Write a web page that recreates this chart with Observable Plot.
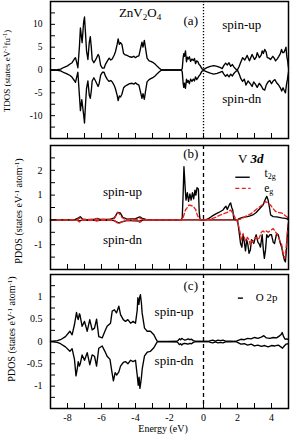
<!DOCTYPE html>
<html><head><meta charset="utf-8">
<script src="https://cdn.jsdelivr.net/npm/d3@7"></script>
<script src="https://cdn.jsdelivr.net/npm/@observablehq/plot@0.6"></script>
<style>
body{margin:0;background:#fff}
#wrap{position:relative;width:291px;height:436px;overflow:hidden;background:#fff}
#wrap svg{position:absolute;left:0}
</style></head><body><div id="wrap"></div>
<script>
// ---------- data (energy in eV, DOS values) ----------
const tdosUp = [[-9,0],[-8.6,0.05],[-8.4,0.2],[-8.2,0.6],[-8.0,0.9],[-7.85,1.3],[-7.73,1.6],[-7.6,2.4],[-7.53,2.7],[-7.45,1.5],[-7.39,0.5],[-7.3,5.0],[-7.24,9.2],[-7.14,6.0],[-7.05,10.5],[-7.0,11.6],[-6.94,8.0],[-6.88,4.2],[-6.8,2.3],[-6.72,6.0],[-6.66,7.3],[-6.6,5.0],[-6.55,2.3],[-6.45,1.6],[-6.35,2.2],[-6.2,3.4],[-6.14,3.0],[-6.05,1.0],[-5.95,0.4],[-5.85,0.4],[-5.76,1.3],[-5.65,2.0],[-5.55,2.6],[-5.45,2.2],[-5.37,2.4],[-5.25,3.3],[-5.18,4.0],[-5.08,5.6],[-5.02,6.8],[-4.95,5.6],[-4.88,6.0],[-4.8,5.6],[-4.7,3.6],[-4.6,3.3],[-4.5,3.2],[-4.35,2.9],[-4.2,2.8],[-4.1,3.0],[-4.0,2.7],[-3.9,3.0],[-3.8,3.1],[-3.7,4.8],[-3.62,6.1],[-3.56,5.0],[-3.48,6.5],[-3.4,4.5],[-3.32,2.6],[-3.2,2.0],[-3.1,1.9],[-2.95,1.6],[-2.85,1.3],[-2.72,0.8],[-2.6,0.4],[-2.5,0.1],[-2.43,0],[-1.3,0],[-1.25,0.3],[-1.2,2.6],[-1.16,3.6],[-1.12,3.0],[-1.06,4.2],[-1.0,1.8],[-0.95,2.8],[-0.9,2.4],[-0.83,2.9],[-0.76,1.9],[-0.68,2.4],[-0.6,2.1],[-0.53,2.5],[-0.47,1.4],[-0.4,2.0],[-0.33,1.8],[-0.26,1.2],[-0.2,1.0],[-0.1,0.3],[0,0.1],[0.2,0.5],[0.4,0.8],[0.6,0.95],[0.8,0.8],[1.0,0.5],[1.1,0.3],[1.2,1.0],[1.3,1.5],[1.4,1.1],[1.5,1.6],[1.6,0.8],[1.7,1.2],[1.8,0.6],[1.9,0.2],[2.0,0.05],[2.1,0.8],[2.18,1.6],[2.3,2.7],[2.43,2.2],[2.57,3.2],[2.7,2.0],[2.86,3.4],[3.0,2.3],[3.1,2.8],[3.16,3.8],[3.29,2.7],[3.4,3.3],[3.45,4.2],[3.52,3.6],[3.6,4.5],[3.68,4.0],[3.75,2.7],[3.85,2.6],[3.94,2.3],[4.08,3.0],[4.16,2.6],[4.24,2.0],[4.35,2.5],[4.43,3.0],[4.52,3.6],[4.59,4.5],[4.66,3.8],[4.72,3.8],[4.8,4.4],[4.85,5.0],[4.9,3.0],[4.95,2.0],[5.0,0.5]];
const tdosDn = [[-9,0],[-8.6,-0.05],[-8.4,-0.2],[-8.2,-0.6],[-8.0,-0.9],[-7.85,-1.2],[-7.73,-1.6],[-7.6,-2.3],[-7.53,-2.7],[-7.45,-1.4],[-7.39,-0.5],[-7.3,-5.5],[-7.24,-8.9],[-7.16,-6.5],[-7.05,-9.8],[-7.0,-11.6],[-6.94,-7.5],[-6.88,-4.0],[-6.8,-2.4],[-6.72,-5.5],[-6.66,-6.2],[-6.6,-4.6],[-6.55,-2.4],[-6.45,-1.7],[-6.35,-2.4],[-6.2,-3.6],[-6.14,-3.0],[-6.05,-1.1],[-5.95,-0.5],[-5.85,-0.5],[-5.76,-1.4],[-5.65,-2.1],[-5.55,-2.5],[-5.45,-2.3],[-5.37,-2.6],[-5.25,-3.4],[-5.18,-4.1],[-5.08,-5.5],[-5.02,-6.7],[-4.95,-5.7],[-4.88,-5.9],[-4.8,-5.3],[-4.7,-3.9],[-4.6,-3.5],[-4.5,-3.3],[-4.35,-3.0],[-4.2,-2.9],[-4.1,-3.1],[-4.0,-2.8],[-3.9,-3.1],[-3.8,-3.3],[-3.7,-4.9],[-3.62,-6.2],[-3.56,-5.2],[-3.48,-6.4],[-3.4,-4.4],[-3.32,-2.6],[-3.2,-2.1],[-3.1,-1.9],[-2.95,-1.6],[-2.85,-1.3],[-2.72,-0.8],[-2.6,-0.4],[-2.5,-0.1],[-2.43,0],[-1.3,0],[-1.25,-0.4],[-1.2,-2.8],[-1.16,-3.8],[-1.12,-2.9],[-1.06,-4.0],[-1.0,-2.0],[-0.95,-2.7],[-0.9,-2.3],[-0.83,-3.0],[-0.76,-2.0],[-0.68,-2.5],[-0.6,-2.0],[-0.53,-2.4],[-0.47,-1.5],[-0.4,-2.1],[-0.33,-1.7],[-0.26,-1.3],[-0.2,-1.0],[-0.1,-0.3],[0,-0.1],[0.2,-0.4],[0.4,-0.7],[0.6,-0.9],[0.8,-0.75],[1.0,-0.45],[1.1,-0.3],[1.2,-0.9],[1.3,-1.4],[1.4,-1.0],[1.5,-1.5],[1.6,-0.9],[1.7,-1.3],[1.8,-0.7],[1.9,-0.3],[2.0,-0.05],[2.1,-0.9],[2.2,-1.9],[2.3,-2.5],[2.4,-2.0],[2.5,-3.3],[2.62,-2.4],[2.75,-3.0],[2.86,-3.6],[2.95,-2.6],[3.05,-3.1],[3.16,-3.8],[3.28,-2.9],[3.4,-3.5],[3.5,-4.2],[3.6,-4.4],[3.7,-3.2],[3.8,-2.6],[3.9,-2.3],[4.0,-3.0],[4.1,-2.4],[4.2,-2.1],[4.3,-2.8],[4.42,-3.3],[4.52,-3.9],[4.6,-4.6],[4.68,-3.9],[4.75,-4.5],[4.82,-5.0],[4.88,-3.2],[4.94,-2.0],[5.0,-0.5]];

const t2gUp = [[-9,0],[-7.6,0],[-7.35,0.08],[-7.25,0.13],[-7.1,0.03],[-6.8,0],[-6.4,0.03],[-6.25,0.06],[-6.1,0.02],[-5.5,0.02],[-5.25,0.08],[-5.05,0.3],[-4.9,0.28],[-4.75,0.1],[-4.5,0.03],[-4.0,0.05],[-3.75,0.12],[-3.6,0.06],[-3.3,0],[-1.3,0],[-1.25,0.1],[-1.2,1.0],[-1.15,2.15],[-1.08,1.3],[-1.03,0.8],[-0.95,1.1],[-0.88,0.75],[-0.8,1.05],[-0.73,0.8],[-0.65,1.1],[-0.58,0.85],[-0.5,1.2],[-0.45,1.0],[-0.38,1.3],[-0.3,1.25],[-0.25,0.3],[-0.2,0],[0.1,0],[0.3,0.05],[0.5,0.15],[0.7,0.23],[0.9,0.3],[1.0,0.34],[1.15,0.4],[1.25,0.5],[1.32,0.55],[1.4,0.42],[1.48,0.55],[1.55,0.65],[1.6,0.68],[1.66,0.5],[1.72,0.4],[1.78,0.05],[1.9,0],[2.0,0],[2.1,0.05],[2.3,0.1],[2.5,0.12],[2.7,0.15],[2.9,0.2],[3.1,0.3],[3.3,0.45],[3.5,0.6],[3.65,0.85],[3.72,0.95],[3.8,0.8],[3.88,0.5],[3.95,0.2],[4.1,0.13],[4.3,0.12],[4.6,0.08],[4.9,0.05],[5.0,0]];
const t2gDn = [[-9,0],[-7.4,0],[-7.3,-0.05],[-7.2,-0.02],[-5.3,-0.02],[-5.2,-0.05],[-5.0,-0.12],[-4.8,-0.08],[-4.5,-0.02],[-3.8,-0.05],[-3.6,-0.02],[-3.3,0],[2.0,0],[2.08,-0.4],[2.18,-0.95],[2.26,-1.1],[2.33,-0.6],[2.4,-0.9],[2.47,-1.25],[2.54,-0.8],[2.61,-1.0],[2.68,-1.35],[2.76,-1.2],[2.82,-0.8],[2.9,-0.85],[2.96,-0.95],[3.05,-0.7],[3.1,-0.6],[3.2,-0.9],[3.3,-1.0],[3.35,-1.1],[3.45,-0.6],[3.52,-1.2],[3.58,-1.55],[3.65,-1.2],[3.72,-0.6],[3.8,-0.7],[3.9,-0.6],[4.0,-0.6],[4.1,-0.9],[4.18,-0.95],[4.3,-0.55],[4.4,-0.6],[4.5,-0.9],[4.6,-1.1],[4.68,-1.4],[4.76,-1.62],[4.82,-1.69],[4.88,-1.2],[4.95,-0.4],[5.0,-0.1]];
const egUp = [[-9,0],[-7.45,0],[-7.35,0.05],[-7.25,0.08],[-7.1,0.02],[-6.4,0.02],[-6.3,0.05],[-6.15,0.02],[-5.3,0.02],[-5.2,0.1],[-5.05,0.3],[-4.95,0.25],[-4.8,0.1],[-4.6,0.02],[-3.9,0.02],[-3.75,0.08],[-3.6,0.02],[-3.3,0],[-1.3,0],[-1.2,0.1],[-1.06,0.4],[-0.95,0.5],[-0.86,0.6],[-0.75,0.58],[-0.6,0.55],[-0.45,0.4],[-0.37,0.2],[-0.25,0.05],[-0.18,0],[0.2,0],[0.4,0.03],[0.7,0.1],[1.0,0.2],[1.2,0.25],[1.39,0.3],[1.5,0.35],[1.59,0.4],[1.7,0.3],[1.78,0.2],[1.9,0.03],[2.0,0],[2.2,0.03],[2.5,0.15],[2.8,0.25],[2.96,0.34],[3.15,0.45],[3.35,0.55],[3.5,0.62],[3.65,0.74],[3.75,0.7],[3.85,0.65],[3.94,0.6],[4.1,0.45],[4.24,0.34],[4.4,0.3],[4.63,0.27],[4.8,0.18],[4.9,0.13],[5.0,0.05]];
const egDn = [[-9,0],[-7.45,0],[-7.3,-0.08],[-7.15,-0.02],[-6.4,-0.02],[-6.3,-0.05],[-6.15,-0.02],[-5.3,-0.02],[-5.2,-0.05],[-5.0,-0.15],[-4.85,-0.1],[-4.6,-0.03],[-3.9,-0.02],[-3.75,-0.1],[-3.6,-0.03],[-3.3,0],[1.95,0],[2.05,-0.2],[2.15,-0.5],[2.24,-0.8],[2.33,-0.55],[2.42,-0.75],[2.5,-0.85],[2.58,-0.7],[2.67,-0.8],[2.75,-1.0],[2.82,-0.85],[2.9,-0.9],[3.0,-0.75],[3.1,-0.7],[3.2,-0.8],[3.3,-0.7],[3.4,-0.5],[3.5,-0.45],[3.6,-0.5],[3.7,-0.45],[3.8,-0.5],[3.9,-0.45],[4.0,-0.4],[4.1,-0.35],[4.2,-0.45],[4.35,-0.6],[4.5,-0.85],[4.6,-1.0],[4.7,-1.4],[4.78,-1.55],[4.85,-1.2],[4.92,-0.6],[5.0,-0.15]];

const o2pUp = [[-9,0],[-8.6,0.02],[-8.41,0.04],[-8.12,0.11],[-7.86,0.23],[-7.73,0.15],[-7.59,0.38],[-7.47,0.65],[-7.42,0.55],[-7.37,0.49],[-7.3,0.62],[-7.27,0.6],[-7.14,0.34],[-7.0,0.45],[-6.84,0.23],[-6.69,0.49],[-6.55,0.26],[-6.41,0.3],[-6.29,0.5],[-6.16,0.11],[-5.96,0.08],[-5.8,0.23],[-5.67,0.34],[-5.47,0.41],[-5.37,0.68],[-5.24,0.71],[-5.12,0.64],[-4.98,0.79],[-4.88,0.6],[-4.72,0.49],[-4.59,0.45],[-4.45,0.49],[-4.29,0.41],[-4.14,0.45],[-4.0,0.41],[-3.9,0.7],[-3.86,0.98],[-3.8,0.83],[-3.75,1.0],[-3.71,1.05],[-3.65,0.85],[-3.61,0.64],[-3.47,0.3],[-3.31,0.23],[-3.12,0.23],[-2.92,0.15],[-2.8,0.06],[-2.72,0.01],[-1.6,0],[-1.5,0.02],[-1.42,0.06],[-1.35,0.04],[-1.28,0.07],[-1.2,0.05],[-1.1,0.03],[-1.0,0.04],[-0.9,0.06],[-0.8,0.04],[-0.7,0.05],[-0.6,0.02],[-0.5,0.01],[-0.4,0],[0.3,0],[0.4,0.02],[0.55,0.03],[0.7,0.01],[0.85,0.03],[1.0,0.02],[1.15,0.03],[1.3,0.01],[1.6,0.01],[1.9,0],[2.0,0.02],[2.2,0.05],[2.4,0.04],[2.6,0.07],[2.8,0.06],[3.0,0.09],[3.2,0.07],[3.4,0.1],[3.55,0.13],[3.7,0.08],[3.9,0.07],[4.1,0.09],[4.3,0.08],[4.45,0.12],[4.55,0.15],[4.63,0.2],[4.7,0.12],[4.8,0.05],[4.9,0.06],[5.0,0.04]];
const o2pDn = [[-9,0],[-8.6,-0.02],[-8.41,-0.05],[-8.12,-0.12],[-7.86,-0.22],[-7.73,-0.16],[-7.59,-0.4],[-7.5,-0.77],[-7.42,-0.6],[-7.37,-0.45],[-7.3,-0.55],[-7.25,-0.5],[-7.14,-0.3],[-7.0,-0.42],[-6.84,-0.25],[-6.69,-0.52],[-6.55,-0.3],[-6.41,-0.33],[-6.29,-0.55],[-6.16,-0.15],[-5.96,-0.1],[-5.8,-0.22],[-5.67,-0.33],[-5.5,-0.4],[-5.4,-0.65],[-5.3,-0.88],[-5.2,-0.7],[-5.1,-0.75],[-4.98,-0.68],[-4.88,-0.55],[-4.72,-0.47],[-4.59,-0.45],[-4.45,-0.5],[-4.29,-0.42],[-4.14,-0.45],[-4.0,-0.42],[-3.9,-0.75],[-3.84,-0.98],[-3.79,-0.8],[-3.74,-1.05],[-3.7,-0.95],[-3.65,-0.8],[-3.6,-0.6],[-3.47,-0.32],[-3.31,-0.24],[-3.12,-0.22],[-2.92,-0.14],[-2.8,-0.06],[-2.72,-0.01],[-1.6,0],[-1.5,-0.03],[-1.42,-0.07],[-1.35,-0.05],[-1.28,-0.08],[-1.2,-0.05],[-1.1,-0.04],[-1.0,-0.05],[-0.9,-0.06],[-0.8,-0.04],[-0.7,-0.05],[-0.6,-0.02],[-0.5,-0.01],[-0.4,0],[0.3,0],[0.4,-0.02],[0.55,-0.03],[0.7,-0.01],[0.85,-0.03],[1.0,-0.02],[1.15,-0.03],[1.3,-0.01],[1.6,-0.01],[1.9,0],[2.0,-0.02],[2.2,-0.06],[2.4,-0.05],[2.6,-0.08],[2.8,-0.06],[3.0,-0.1],[3.2,-0.08],[3.4,-0.11],[3.6,-0.09],[3.8,-0.12],[4.0,-0.09],[4.2,-0.1],[4.4,-0.08],[4.55,-0.12],[4.65,-0.15],[4.75,-0.1],[4.85,-0.06],[5.0,-0.05]];

// ---------- ticks ----------
const energyLabels = [-8, -6, -4, -2, 0, 2, 4];
const energyTicks = [-8, -7, -6, -5, -4, -3, -2, -1, 0, 1, 2, 3, 4];
const tdosLabels = [-10, -5, 0, 5, 10];
const tdosTicks = [-12.5, -10, -7.5, -5, -2.5, 0, 2.5, 5, 7.5, 10, 12.5];
const vLabels = [-1, 0, 1, 2];
const vTicks = [-1.5, -1, -0.5, 0, 0.5, 1, 1.5, 2, 2.5];
const oLabels = [-1, -0.5, 0, 0.5, 1];
const oTicks = [-1.25, -1, -0.75, -0.5, -0.25, 0, 0.25, 0.5, 0.75, 1, 1.25];

// ---------- drawing ----------
const FONT = '"Liberation Serif", "Times New Roman", serif';
const W = 291, ML = 50, MR = 3;
const rows = pairs => pairs.map(([e, v]) => ({e, v}));
const wrap = document.getElementById("wrap");

function panel({top, height, mt, mb, yDomain, yTicks, yLabels, tickFont, curves, zeroDash, xLabels}) {
  const fw = W - ML - MR, fh = height - mt - mb;
  const marks = [
    Plot.ruleX([0], {stroke: "black", strokeWidth: 1.3, strokeDasharray: zeroDash}),
    ...curves,
    Plot.tickY(yTicks, {y: d => d, insetRight: fw - 5, strokeWidth: 1}),
    Plot.tickX(energyTicks, {x: d => d, insetTop: fh - 5, strokeWidth: 1}),
    Plot.axisY(yLabels, {tickSize: 0, tickPadding: 8, label: null, tickFormat: d => String(d), fontSize: tickFont}),
    Plot.frame({stroke: "black", strokeWidth: 1.5})
  ];
  if (xLabels) marks.push(Plot.axisX(energyLabels, {tickSize: 0, tickPadding: 5, label: null, tickFormat: d => String(d), fontSize: 10}));
  const svg = Plot.plot({
    width: W, height, marginLeft: ML, marginRight: MR, marginTop: mt, marginBottom: mb,
    style: {fontFamily: FONT, background: "transparent", overflow: "visible"},
    x: {domain: [-9, 5], axis: xLabels ? undefined : null},
    y: {domain: yDomain},
    marks
  });
  svg.style.top = top + "px";
  wrap.appendChild(svg);
  return svg;
}

const line = (pairs, o = {}) => Plot.line(rows(pairs), {x: "e", y: "v", stroke: "black", strokeWidth: 1.35, ...o});
const RED = "#e8231f";

const svgA = panel({top: 0, height: 140, mt: 1, mb: 2, yDomain: [-15, 15], yTicks: tdosTicks, yLabels: tdosLabels, tickFont: 9.5,
  curves: [line(tdosUp), line(tdosDn)], zeroDash: "1.2,1.8"});
const svgB = panel({top: 142, height: 130, mt: 3, mb: 3, yDomain: [-2, 3], yTicks: vTicks, yLabels: vLabels, tickFont: 10,
  curves: [line(t2gUp), line(t2gDn), line(egUp, {stroke: RED, strokeDasharray: "4,2.5"}), line(egDn, {stroke: RED, strokeDasharray: "4,2.5"})], zeroDash: "4,3"});
const svgC = panel({top: 272, height: 164, mt: 2, mb: 28, yDomain: [-1.5, 1.5], yTicks: oTicks, yLabels: oLabels, tickFont: 10,
  curves: [line(o2pUp), line(o2pDn)], zeroDash: "4,3", xLabels: true});

// annotation helper: parts = [text, shift]; shift: 0 normal, "sub", "super"
function label(svg, E, v, parts, {size = 13, anchor = "middle"} = {}) {
  const x = svg.scale("x").apply(E), y = svg.scale("y").apply(v);
  const t = d3.select(svg).append("text").attr("x", x).attr("y", y)
    .attr("text-anchor", anchor).attr("font-size", size).attr("font-family", FONT).attr("fill", "black");
  for (const p of parts) {
    const [txt, shift, extra] = Array.isArray(p) ? p : [p];
    const s = t.append("tspan").text(txt);
    if (shift) s.attr("baseline-shift", shift === "sub" ? "-30%" : "40%").attr("font-size", size * 0.7);
    if (extra === "bi") s.attr("font-weight", "bold").attr("font-style", "italic");
  }
  return t;
}
function yTitle(svg, x, y, main, size) {
  const t = d3.select(svg).append("text").attr("transform", `translate(${x},${y}) rotate(-90)`)
    .attr("text-anchor", "middle").attr("font-size", size).attr("font-family", FONT).attr("fill", "black");
  for (const [txt, sup] of main) {
    const s = t.append("tspan").text(txt);
    if (sup) s.attr("baseline-shift", "45%").attr("font-size", size * 0.7);
  }
}
function legendLine(svg, E1, E2, v, o) {
  const sx = svg.scale("x"), sy = svg.scale("y");
  d3.select(svg).append("line").attr("x1", sx.apply(E1)).attr("x2", sx.apply(E2))
    .attr("y1", sy.apply(v)).attr("y2", sy.apply(v)).attr("stroke", o.stroke).attr("stroke-width", 1.4)
    .attr("stroke-dasharray", o.dash || null);
}

// panel (a)
label(svgA, -3.7, 11.55, ["ZnV", ["2", "sub"], "O", ["4", "sub"]], {size: 13});
label(svgA, -0.72, 9.7, ["(a)"], {size: 13});
label(svgA, 2.28, 8.8, ["spin-up"], {size: 13});
label(svgA, 2.28, -7.4, ["spin-dn"], {size: 13});
yTitle(svgA, 10, 71, [["TDOS (states eV"], ["-1", true], ["fu"], ["-1", true], [")"]], 9);

// panel (b)
label(svgB, -0.72, 2.48, ["(b)"], {size: 13});
label(svgB, -4.74, 0.94, ["spin-up"], {size: 13});
label(svgB, -4.74, -0.99, ["spin-dn"], {size: 13});
label(svgB, 2.06, 2.27, ["V ", ["3d", 0, "bi"]], {size: 13, anchor: "start"});
legendLine(svgB, 1.9, 2.75, 1.7, {stroke: "black"});
legendLine(svgB, 1.9, 2.8, 1.25, {stroke: RED, dash: "4,2.5"});
label(svgB, 3.62, 1.72, ["t", ["2g", "sub"]], {size: 11.5, anchor: "start"});
label(svgB, 3.6, 1.1, ["e", ["g", "sub"]], {size: 11.5, anchor: "start"});
yTitle(svgB, 22, 69, [["PDOS (states eV"], ["-1", true], [" atom"], ["-1", true], [")"]], 10);

// panel (c)
label(svgC, -0.72, 1.14, ["(c)"], {size: 13});
label(svgC, -1.7, 0.56, ["spin-up"], {size: 13});
label(svgC, -1.7, -0.54, ["spin-dn"], {size: 13});
legendLine(svgC, 2.05, 2.35, 0.96, {stroke: "black"});
label(svgC, 3.1, 0.9, ["O 2p"], {size: 11, anchor: "start"});
label(svgC, -2.35, -2.03, ["Energy (eV)"], {size: 10});
yTitle(svgC, 15, 57, [["PDOS (states eV"], ["-1", true], [" atom"], ["-1", true], [")"]], 10);
</script></body></html>
